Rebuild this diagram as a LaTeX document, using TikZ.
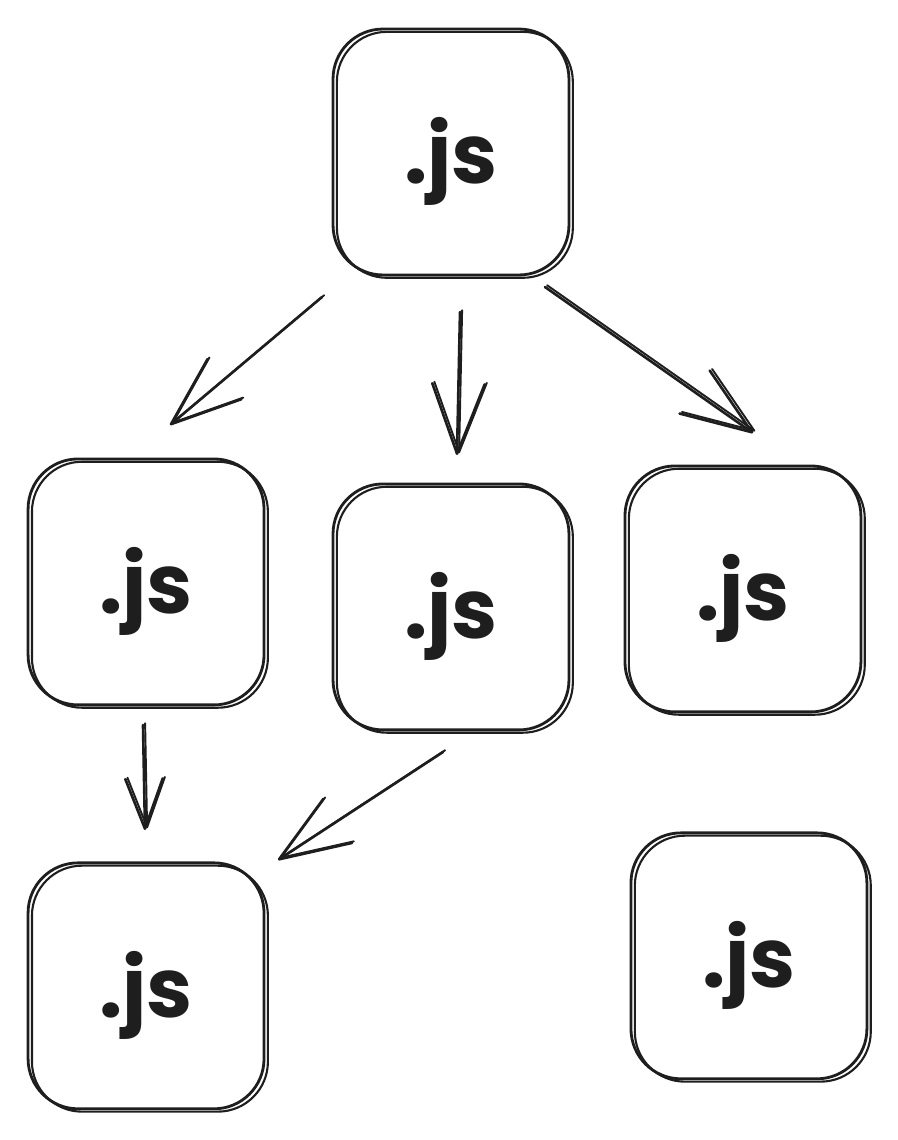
\documentclass[tikz,border=0pt]{standalone}
\usepackage{fontspec}
\setmainfont{Poppins}
\usetikzlibrary{positioning,arrows.meta}

\definecolor{ink}{HTML}{1E1E1E}

\tikzset{
  jsbox/.style={draw=ink, line width=1.6pt, rounded corners=1cm,
    minimum width=4.72cm, minimum height=4.92cm, text=ink,
    text height=1.6cm, text depth=0.33cm,
    font=\fontsize{47}{50}\selectfont\bfseries,
    postaction={draw=ink, line width=1.2pt, transform canvas={xshift=2.2pt,yshift=-1.6pt}}},
  sketch arrow/.style={draw=ink, line width=1.5pt, line cap=round,
    -{Straight Barb[length=1.4cm, width=1.05cm, round]},
    postaction={draw=ink, line width=1.1pt, transform canvas={xshift=1.2pt,yshift=1pt}}},
}

\begin{document}
\begin{tikzpicture}[x=0.02cm, y=-0.02cm, on grid]
 \useasboundingbox (0,0) rectangle (897,1140);
 % boxes
 \node [jsbox] (top) at (451,152) {.js};
 \node [jsbox, below left=8.6cm and 6.1cm of top] (left) {.js};
 \node [jsbox, below=9.1cm of top] (mid) {.js};
 \node [jsbox, below right=8.74cm and 5.84cm of top] (right) {.js};
 \node [jsbox, below=8.08cm of left] (botleft) {.js};
 \node [jsbox, below right=7.34cm and 0.12cm of right] (botright) {.js};
 % arrow ends
 \coordinate (top-left-s) at (322,297);
 \coordinate (top-left-e) at (170,425);
 \coordinate (top-mid-s) at (460,312);
 \coordinate (top-mid-e) at (457,455);
 \coordinate (top-right-s) at (545,287);
 \coordinate (top-right-e) at (753,433);
 \coordinate (left-bot-s) at (143,725);
 \coordinate (left-bot-e) at (145,830);
 \coordinate (mid-bot-s) at (443,752);
 \coordinate (mid-bot-e) at (278,860);
 % arrows
 \draw [sketch arrow] (top-left-s) -- (top-left-e);
 \draw [sketch arrow] (top-mid-s) -- (top-mid-e);
 \draw [sketch arrow] (top-right-s) -- (top-right-e);
 \draw [sketch arrow, -{Straight Barb[length=1cm, width=0.75cm, round]}] (left-bot-s) -- (left-bot-e);
 \draw [sketch arrow] (mid-bot-s) -- (mid-bot-e);
\end{tikzpicture}
\end{document}
